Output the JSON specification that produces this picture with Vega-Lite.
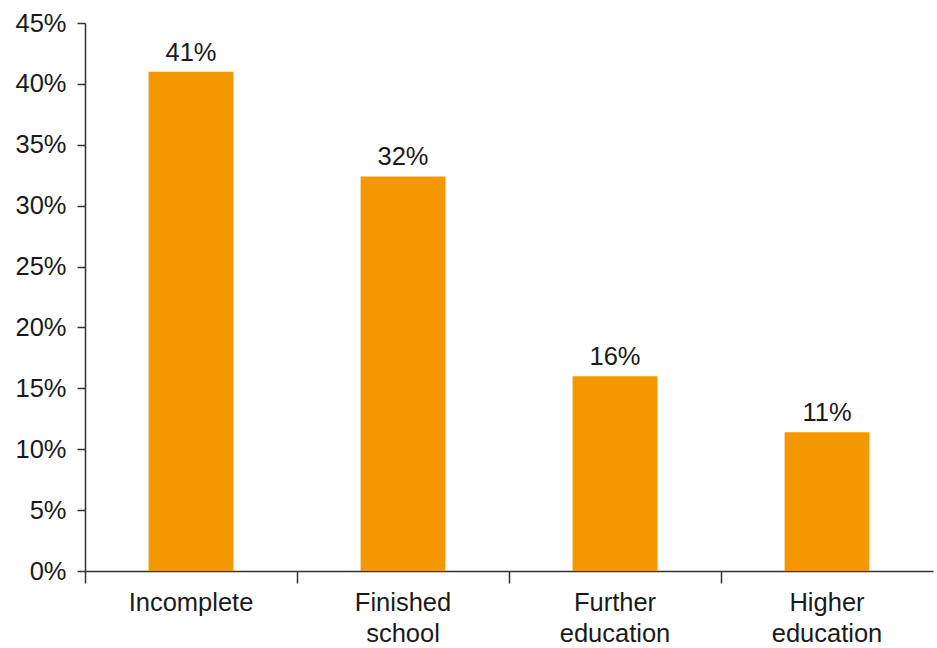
{
  "$schema": "https://vega.github.io/schema/vega-lite/v6.json",
  "autosize": "none",
  "width": 848,
  "height": 548,
  "padding": {"left": 85, "top": 23, "right": 4, "bottom": 77},
  "background": "white",
  "config": {
    "view": {"stroke": null},
    "font": "Liberation Sans",
    "axis": {"grid": false, "domainColor": "#333333", "tickColor": "#333333", "labelColor": "#1a1a1a", "labelFont": "Liberation Sans", "labelFontSize": 25.5, "domainWidth": 1.5, "tickWidth": 1.5}
  },
  "data": {
    "values": [
      {"category": "Incomplete", "share": 0.410},
      {"category": "Finished school", "share": 0.324},
      {"category": "Further education", "share": 0.160},
      {"category": "Higher education", "share": 0.114}
    ]
  },
  "encoding": {
    "x": {
      "field": "category", "type": "nominal", "sort": null,
      "scale": {"paddingInner": 0, "paddingOuter": 0},
      "axis": {"title": null, "labelAngle": 0, "bandPosition": 0, "tickSize": 12, "labelPadding": 7, "labelLineHeight": 31, "labelExpr": "split(datum.value, ' ')", "labelBaseline": "top"}
    },
    "y": {
      "field": "share", "type": "quantitative",
      "scale": {"domain": [0, 0.45], "nice": false},
      "axis": {"title": null, "format": ".0%", "values": [0, 0.05, 0.1, 0.15, 0.2, 0.25, 0.3, 0.35, 0.4, 0.45], "tickSize": 8, "labelPadding": 11}
    }
  },
  "layer": [
    {"mark": {"type": "bar", "color": "#F39800", "width": {"band": 0.4}}},
    {"mark": {"type": "text", "fontSize": 25.5, "color": "#1a1a1a", "baseline": "alphabetic", "dy": -11, "font": "Liberation Sans"},
     "encoding": {"text": {"field": "share", "type": "quantitative", "format": ".0%"}}}
  ]
}
